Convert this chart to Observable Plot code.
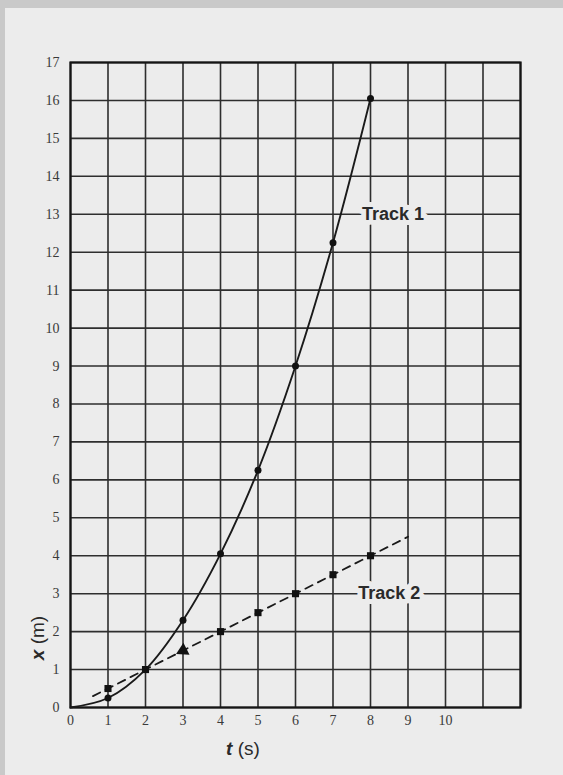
<!DOCTYPE html>
<html><head><meta charset="utf-8">
<script src="https://cdn.jsdelivr.net/npm/d3@7"></script>
<script src="https://cdn.jsdelivr.net/npm/@observablehq/plot@0.6"></script>
<style>
html,body{margin:0;padding:0;background:#c9c9c9;width:563px;height:775px;overflow:hidden}
#paper{position:absolute;left:5px;top:8px;width:558px;height:767px;background:#ececec}
#chart{position:absolute;left:0;top:0}
</style></head><body><div id="paper"></div><div id="chart"></div>
<script>
// Track 1 (solid curve)
const track1T = [0, 1, 2, 3, 4, 5, 6, 7, 8];
const track1X = [0, 0.25, 1.0, 2.3, 4.05, 6.25, 9.0, 12.25, 16.05];
// Track 2 (dashed line)
const track2LineT = [0.6, 1, 2, 3, 4, 5, 6, 7, 8, 9];
const track2LineX = [0.3, 0.5, 1.0, 1.5, 2.0, 2.5, 3.0, 3.5, 4.0, 4.5];
const track2DotT = [1, 2, 4, 5, 6, 7, 8];
const track2DotX = [0.5, 1.0, 2.0, 2.5, 3.0, 3.5, 4.0];
const arrowT = [3];
const arrowX = [1.5];
// Axes
const xTicks = [0, 1, 2, 3, 4, 5, 6, 7, 8, 9, 10];
const yTicks = [0, 1, 2, 3, 4, 5, 6, 7, 8, 9, 10, 11, 12, 13, 14, 15, 16, 17];
const xGrid = [0, 1, 2, 3, 4, 5, 6, 7, 8, 9, 10, 11, 12];
// Curve labels
const labelText = ["Track 1", "Track 2"];
const labelT = [8.6, 8.5];
const labelX = [13.0, 3.0];

const t1 = track1T.map((t, i) => ({t, x: track1X[i]}));
const t2line = track2LineT.map((t, i) => ({t, x: track2LineX[i]}));
const t2dots = track2DotT.map((t, i) => ({t, x: track2DotX[i]}));
const arrows = arrowT.map((t, i) => ({t, x: arrowX[i]}));
const labels = labelText.map((s, i) => ({s, t: labelT[i], x: labelX[i]}));

const chart = Plot.plot({
  width: 563, height: 775,
  marginLeft: 70, marginRight: 43, marginTop: 62, marginBottom: 68,
  style: {background: "transparent", fontFamily: "Liberation Serif", fontSize: "14px", color: "#3a3a3a"},
  x: {domain: [0, 12], label: null},
  y: {domain: [0, 17], label: null},
  marks: [
    Plot.gridX(xGrid, {stroke: "#2e2e2e", strokeOpacity: 1, strokeWidth: 1.6}),
    Plot.gridY(yTicks, {stroke: "#2e2e2e", strokeOpacity: 1, strokeWidth: 1.6}),
    Plot.frame({stroke: "#151515", strokeWidth: 2.2}),
    Plot.axisX(xTicks, {tickSize: 0, tickPadding: 8, fontSize: 14, fill: "#3a3a3a", label: null}),
    Plot.axisY(yTicks, {tickSize: 0, tickPadding: 11, fontSize: 14, fill: "#3a3a3a", label: null}),
    Plot.line(t2line, {x: "t", y: "x", stroke: "#1a1a1a", strokeWidth: 1.8, strokeDasharray: "8,6"}),
    Plot.line(t1, {x: "t", y: "x", curve: "catmull-rom", stroke: "#1a1a1a", strokeWidth: 1.9}),
    Plot.dot(t1.filter(d => d.t > 0), {x: "t", y: "x", r: 3.5, fill: "#111"}),
    Plot.dot(t2dots, {x: "t", y: "x", r: 4, fill: "#111", symbol: "square"}),
    Plot.dot(arrows, {x: "t", y: "x", r: 5, fill: "#111", symbol: "triangle", rotate: -117}),
    Plot.text(labels, {x: "t", y: "x", text: "s", fontFamily: "Liberation Sans", fontWeight: "bold", fontSize: 18, fill: "#2a2a2a", stroke: "#ececec", strokeWidth: 10})
  ]
});
document.getElementById("chart").appendChild(chart);

const svg = d3.select(chart);
const ylab = svg.append("text")
  .attr("transform", "translate(44,638) rotate(-90)")
  .attr("text-anchor", "middle")
  .attr("font-family", "Liberation Sans")
  .attr("font-size", 19)
  .attr("fill", "#2a2a2a");
ylab.append("tspan").attr("font-style", "italic").attr("font-weight", "bold").text("x");
ylab.append("tspan").text(" (m)");
const xlab = svg.append("text")
  .attr("x", 243).attr("y", 755)
  .attr("text-anchor", "middle")
  .attr("font-family", "Liberation Sans")
  .attr("font-size", 19)
  .attr("fill", "#2a2a2a");
xlab.append("tspan").attr("font-style", "italic").attr("font-weight", "bold").text("t");
xlab.append("tspan").text(" (s)");
</script></body></html>
